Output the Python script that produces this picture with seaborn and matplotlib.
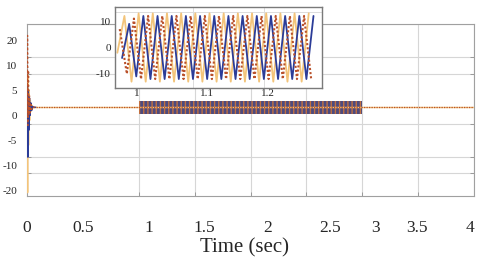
import numpy as np
import pandas as pd
import matplotlib
matplotlib.use("Agg")
import matplotlib.pyplot as plt
import seaborn as sns

# ---- data ----
# start-up transient near t=0
tr_t = [0.0, 0.004, 0.008, 0.012, 0.016, 0.022, 0.028, 0.034, 0.042, 0.05, 0.06, 0.08]
tr_orange = [0.0, 16.0, -2.0, 9.0, 0.0, 4.0, 0.5, 2.5, 1.2, 1.8, 1.6, 1.6]
tr_yellow = [0.0, -15.5, 8.0, -6.0, 5.0, -1.0, 3.0, 0.8, 2.0, 1.5, 1.6, 1.6]
tr_blue = [0.0, 6.0, -8.4, 5.0, -3.0, 3.5, 0.0, 2.5, 1.0, 1.8, 1.6, 1.6]

# steady level and the oscillation band between 1 s and 3 s
steady_t = [0.08, 1.0, 3.0, 4.0]
steady_v = [1.6, 1.6, 1.6, 1.6]
band_t = [1.0, 3.0]
band_hi = [2.8, 2.8]
band_lo = [0.3, 0.3]

# inset: zoom 1.0 .. 1.27 s, peak / trough vertices of the three phases
ins_t = np.linspace(1.0, 1.27, 28)
ins_shift_orange = -0.0033
ins_shift_yellow = -0.0067
ins_blue = [-4, 9, -11, 12, -12, 12, -12, 12, -12, 12, -12, 12, -12, 12,
            -12, 12, -12, 12, -12, 12, -12, 12, -12, 12, -12, 12, -12, 12]
ins_orange = [7, -10, 11, -12, 12, -12, 12, -12, 12, -12, 12, -12, 12, -12,
              12, -12, 12, -12, 12, -12, 12, -12, 12, -12, 12, -12, 12, -12]
ins_yellow = [-2, 12, -13, 13, -13, 13, -13, 13, -13, 13, -13, 13, -13, 13,
              -13, 13, -13, 13, -13, 13, -13, 13, -13, 13, -13, 13, -13, 13]

# axis labels
ytick_pos = [15, 10, 5, 0, -5, -10, -15]
ytick_lab = ["20", "10", "5", "0", "-5", "-10", "-20"]
xtick_pos = [0.0, 0.5, 1.09, 1.59, 2.15, 2.71, 3.12, 3.49, 3.96]
xtick_lab = ["0", "0.5", "1", "1.5", "2", "2.5", "3", "3.5", "4"]
ins_xtick_pos = [1.021, 1.12, 1.206]
ins_xtick_lab = ["1", "1.1", "1.2"]

BLUE = "#2b3c98"
ORANGE = "#b9502a"
YELLOW = "#f3c47a"

sns.set_style("white")
plt.rcParams["font.family"] = ["Liberation Serif", "DejaVu Serif"]
plt.rcParams["hatch.linewidth"] = 1.0

fig = plt.figure(figsize=(4.8, 2.61), dpi=100)
ax = fig.add_axes([27 / 480, 1 - 196 / 261, 447 / 480, 172 / 261])

# main traces
sns.lineplot(x=tr_t, y=tr_yellow, ax=ax, color=YELLOW, lw=1.3, sort=False)
sns.lineplot(x=tr_t, y=tr_blue, ax=ax, color=BLUE, lw=1.0, sort=False)
sns.lineplot(x=tr_t, y=tr_orange, ax=ax, color=ORANGE, lw=1.2, linestyle=":", sort=False)
sns.lineplot(x=steady_t, y=steady_v, ax=ax, color=YELLOW, lw=1.0)
sns.lineplot(x=steady_t, y=steady_v, ax=ax, color=ORANGE, lw=0.9, linestyle=(0, (1, 1)))
ax.fill_between(band_t, band_lo, band_hi, facecolor="#4d4a7e", edgecolor="#c27040",
                hatch="||||", lw=0)

ax.set_xlim(0, 4)
ax.set_ylim(-16.2, 18.3)
ax.set_yticks(ytick_pos)
ax.set_yticklabels(ytick_lab, fontsize=8)
ax.set_yticks(np.arange(-15, 18.4, 10 / 3), minor=True)
ax.set_xticks(xtick_pos)
ax.set_xticklabels(xtick_lab, fontsize=12.5)
ax.set_xticks(np.arange(0, 4.01, 0.5), minor=True)
ax.tick_params(axis="both", which="major", length=0)
ax.tick_params(axis="y", which="major", pad=7)
ax.tick_params(axis="x", which="major", pad=17)
ax.tick_params(axis="both", which="minor", direction="in", length=3,
               color="#909090", right=True, left=True, bottom=True)
ax.grid(which="minor", color="#d6d6d6", lw=0.8)
ax.grid(which="major", visible=False)
for s in ax.spines.values():
    s.set_color("#a0a0a0")
    s.set_linewidth(0.8)
ax.spines["left"].set_zorder(0)
ax.set_xlabel("")
fig.text(244 / 480, 1 - 248 / 261, "Time (sec)", ha="center", va="center", fontsize=15)

# inset
ins = fig.add_axes([115 / 480, 1 - 88 / 261, 207 / 480, 81 / 261])
ins.set_facecolor("white")
df_ins = pd.DataFrame({"t": ins_t, "blue": ins_blue, "orange": ins_orange, "yellow": ins_yellow})
sns.lineplot(x=df_ins["t"] + ins_shift_yellow, y=df_ins["yellow"], ax=ins, color=YELLOW, lw=1.3)
sns.lineplot(x=df_ins["t"], y=df_ins["blue"], ax=ins, color=BLUE, lw=1.3)
sns.lineplot(x=df_ins["t"] + ins_shift_orange, y=df_ins["orange"], ax=ins, color=ORANGE,
             lw=1.5, linestyle=(0, (1, 1)))
ins.set_xlim(0.99, 1.282)
ins.set_ylim(-15.4, 15.4)
ins.set_yticks([10, 0, -10])
ins.set_yticklabels(["10", "0", "-10"], fontsize=8)
ins.set_xticks(ins_xtick_pos)
ins.set_xticklabels(ins_xtick_lab, fontsize=8)
ins.set_xticks([1.1, 1.2], minor=True)
ins.set_yticks([13.5], minor=True)
ins.tick_params(which="both", length=0)
ins.tick_params(axis="y", pad=3)
ins.tick_params(axis="x", pad=1)
ins.grid(which="minor", color="#dcdcdc", lw=0.7)
ins.grid(which="major", visible=False)
ins.set_xlabel("")
ins.set_ylabel("")
for s in ins.spines.values():
    s.set_color("#7a7a7a")
    s.set_linewidth(1.0)

fig.savefig("out.png", dpi=100)
